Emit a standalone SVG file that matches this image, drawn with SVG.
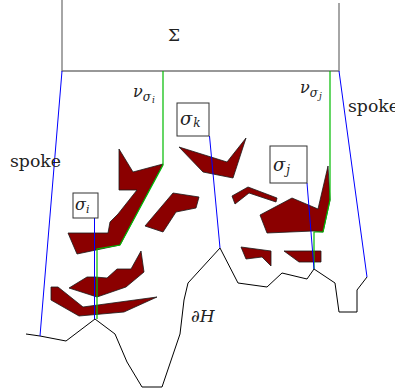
<svg xmlns="http://www.w3.org/2000/svg" width="395" height="392" viewBox="0 0 395 392">
<style>
.frame{fill:none;stroke:#777;stroke-width:1.3}
.spoke{fill:none;stroke:#0000ff;stroke-width:1}
.nu{fill:none;stroke:#00bb00;stroke-width:1.2}
.bd{fill:none;stroke:#000;stroke-width:1}
.obs{fill:#8b0000;stroke:#1a1a1a;stroke-width:0.8;stroke-linejoin:miter}
.box{fill:#fff;stroke:#333;stroke-width:1}
.t{font-family:"DejaVu Serif","Liberation Serif",serif;fill:#222}
.m{font-family:"DejaVu Serif","Liberation Serif",serif;font-style:italic;fill:#222}
</style>
<rect width="395" height="392" fill="#fff"/>
<g id="sigma-box">
<path class="frame" d="M62,0 V71 H339 V3"/>
<text class="t" x="168" y="41" font-size="17">Σ</text>
</g>
<g id="obstacles">
<polygon class="obs" points="119,149 133,172 163,164 120,245 77,254 68,233 108,233 110,222 118,214 137,190 119,190"/>
<polygon class="obs" points="173,193 199,197 196,208 176,212 163,232 145,226"/>
<polygon class="obs" points="69,288 87,277 95,277 107,278 117,269 131,269 141,251 144,272 126,287 97,297"/>
<polygon class="obs" points="51,287 58,287 83,307 157,297 124,312 79,316 51,300"/>
<polygon class="obs" points="179,147 227,162 246,138 233,178 203,172"/>
<polygon class="obs" points="232,196 248,187 277,198 276,202 249,193 235,204"/>
<polygon class="obs" points="260,215 292,198 318,209 328,166 330,200 323,232 313,231 267,233"/>
<polygon class="obs" points="241,247 271,251 271,266 262,257 246,259"/>
<polygon class="obs" points="284,251 321,251 321,262 299,262"/>
</g>
<g id="boundary">
<path class="bd" d="M26,334 L40,336 L66,341 L95,319 L115,334 L127,362 L142,387 L162,387 L180,334 L184,300 L188,283 L220,248 L238,283 L267,287 L282,273 L307,279 L314,269 L335,283 L339,312 L357,312 L357,290 L367,277"/>
<text class="m" x="191" y="322" font-size="17">∂H</text>
</g>
<g id="connectors">
<path class="spoke" d="M62,71 L40,336"/>
<path class="spoke" d="M339,71 L367,277"/>
<path class="nu" d="M163,71 V165 L120,245 L97,249 V319"/>
<path class="nu" d="M330,71 V200 L323,232 L314,232 V269"/>
<path class="spoke" d="M94.5,218 V319"/>
<path class="spoke" d="M209.5,136 L220,248"/>
<path class="spoke" d="M307,183 L314,269"/>
</g>
<g id="labels">
<text class="t" x="10" y="167" font-size="16" textLength="51" lengthAdjust="spacingAndGlyphs">spoke</text>
<text class="t" x="348" y="112" font-size="16" textLength="51" lengthAdjust="spacingAndGlyphs">spoke</text>
<text class="m" x="133" y="97" font-size="16">ν<tspan font-size="12" dy="4">σ</tspan><tspan font-size="9" dy="2" dx="1">i</tspan></text>
<text class="m" x="300" y="93" font-size="16">ν<tspan font-size="12" dy="4">σ</tspan><tspan font-size="9" dy="2" dx="1">j</tspan></text>
</g>
<g id="node-sigma-i">
<rect class="box" x="73" y="193" width="25" height="25"/>
<text class="m" x="75" y="210" font-size="16">σ<tspan font-size="11" dy="3">i</tspan></text>
</g>
<g id="node-sigma-k">
<rect class="box" x="177" y="103" width="32" height="33"/>
<text class="m" x="180" y="125" font-size="18">σ<tspan font-size="12" dy="2" dx="1">k</tspan></text>
</g>
<g id="node-sigma-j">
<rect class="box" x="270" y="146" width="37" height="37"/>
<text class="m" x="273" y="171" font-size="18">σ<tspan font-size="12" dy="3" dx="1">j</tspan></text>
</g>
</svg>
